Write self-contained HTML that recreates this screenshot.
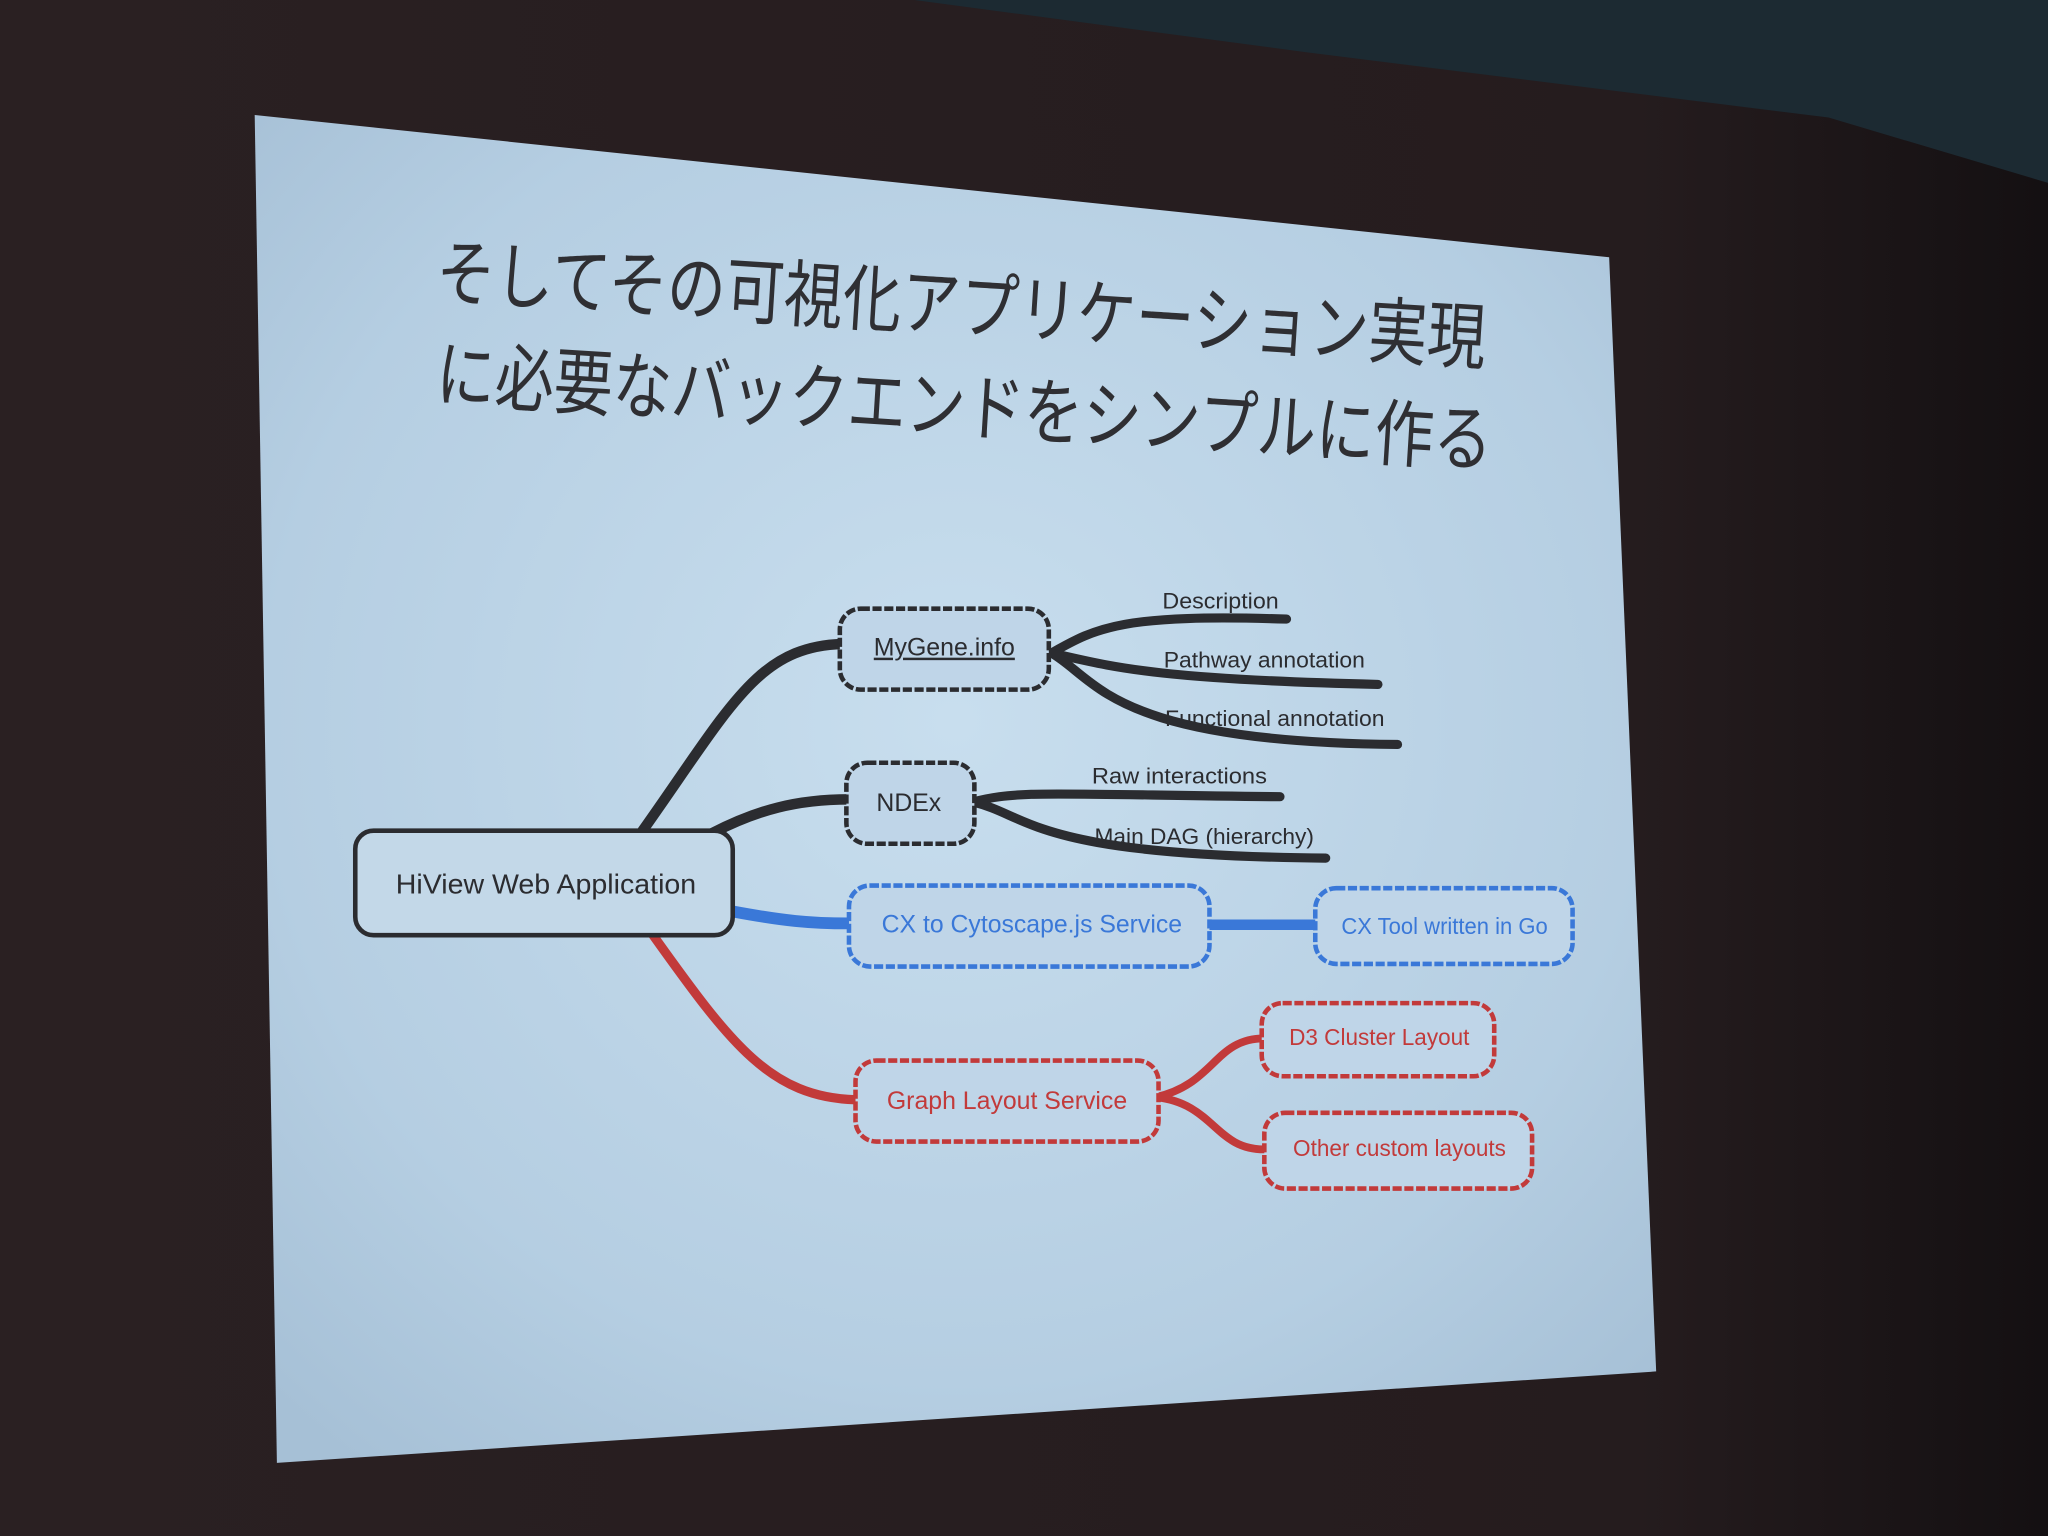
<!DOCTYPE html>
<html><head><meta charset="utf-8"><style>
html,body{margin:0;padding:0;background:#231b1c;}
svg{display:block}
</style></head><body>
<svg width="2048" height="1536" viewBox="0 0 1568 1176" xmlns="http://www.w3.org/2000/svg">
<defs>
<radialGradient id="g" cx="0.5" cy="0.45" r="0.7">
<stop offset="0" stop-color="#c8deee"/><stop offset="0.7" stop-color="#b5cee2"/><stop offset="1" stop-color="#a6c0d6"/>
</radialGradient>
<linearGradient id="bg" x1="0" y1="0" x2="1" y2="0">
<stop offset="0" stop-color="#2a2022"/><stop offset="0.8" stop-color="#251c1e"/><stop offset="1" stop-color="#141012"/>
</linearGradient>
</defs>
<rect width="1568" height="1176" fill="url(#bg)"/>
<polygon points="700,0 1568,0 1568,140 1400,90 1000,40" fill="#1c2a32"/>
<polygon points="195,88 1232,197 1268,1050 212,1120" fill="url(#g)"/>
<g font-family="Liberation Sans, Noto Sans CJK JP, sans-serif" fill="#2f2f33">
<text x="333" y="228" font-size="56" transform="rotate(3.6 333 228)" textLength="805" lengthAdjust="spacingAndGlyphs">そしてその可視化アプリケーション実現</text>
<text x="333" y="306" font-size="56" transform="rotate(3.6 333 306)" textLength="810" lengthAdjust="spacingAndGlyphs">に必要なバックエンドをシンプルに作る</text>
</g>
<g fill="none" stroke-linecap="round">
<path d="M492,636 C560,540 580,495 645,493" stroke="#2b2c30" stroke-width="8"/>
<path d="M545,638 C580,620 610,612 650,612" stroke="#2b2c30" stroke-width="8"/>
<path d="M805,500 C840,480 860,470 985,474" stroke="#2b2c30" stroke-width="7"/>
<path d="M805,500 C850,510 880,520 1055,524" stroke="#2b2c30" stroke-width="7"/>
<path d="M805,500 C840,520 850,568 1070,570" stroke="#2b2c30" stroke-width="7"/>
<path d="M745,614 C780,605 800,608 980,610" stroke="#2b2c30" stroke-width="7"/>
<path d="M745,614 C790,625 790,655 1015,657" stroke="#2b2c30" stroke-width="7"/>
<path d="M562,698 C600,705 620,707 650,707" stroke="#3a78d8" stroke-width="9"/>
<path d="M925,708 L1008,708" stroke="#3a78d8" stroke-width="8"/>
<path d="M500,716 C560,800 590,840 655,842" stroke="#c23a3a" stroke-width="7"/>
<path d="M885,840 C930,830 930,795 968,795" stroke="#c23a3a" stroke-width="6"/>
<path d="M885,840 C930,845 930,880 968,880" stroke="#c23a3a" stroke-width="6"/>
</g>
<rect x="272" y="636" width="289" height="80" rx="14" fill="#c3d8e8" stroke="#2b2c30" stroke-width="3.5"/>
<g fill="#bfd5e8" stroke-width="3.5" stroke-dasharray="7 2">
<rect x="643" y="466" width="160" height="62" rx="16" stroke="#2b2c30"/>
<rect x="648" y="584" width="98" height="62" rx="16" stroke="#2b2c30"/>
<rect x="650" y="678" width="276" height="62" rx="16" stroke="#3a78d8"/>
<rect x="1007" y="680" width="197" height="58" rx="16" stroke="#3a78d8"/>
<rect x="655" y="812" width="232" height="62" rx="16" stroke="#c23a3a"/>
<rect x="966" y="768" width="178" height="56" rx="16" stroke="#c23a3a"/>
<rect x="968" y="852" width="205" height="58" rx="16" stroke="#c23a3a"/>
</g>
<g font-family="Liberation Sans, sans-serif" font-size="19">
<text x="303" y="684" fill="#2b2c30" font-size="21" textLength="230" lengthAdjust="spacingAndGlyphs">HiView Web Application</text>
<text x="669" y="502" fill="#2b2c30" text-decoration="underline" textLength="108" lengthAdjust="spacingAndGlyphs">MyGene.info</text>
<text x="671" y="621" fill="#2b2c30">NDEx</text>
<text x="890" y="466" fill="#2b2c30" font-size="17" textLength="89" lengthAdjust="spacingAndGlyphs">Description</text>
<text x="891" y="511" fill="#2b2c30" font-size="17" textLength="154" lengthAdjust="spacingAndGlyphs">Pathway annotation</text>
<text x="892" y="556" fill="#2b2c30" font-size="17" textLength="168" lengthAdjust="spacingAndGlyphs">Functional annotation</text>
<text x="836" y="600" fill="#2b2c30" font-size="17" textLength="134" lengthAdjust="spacingAndGlyphs">Raw interactions</text>
<text x="838" y="646" fill="#2b2c30" font-size="17" textLength="168" lengthAdjust="spacingAndGlyphs">Main DAG (hierarchy)</text>
<text x="675" y="714" fill="#3a78d8" textLength="230" lengthAdjust="spacingAndGlyphs">CX to Cytoscape.js Service</text>
<text x="1027" y="715" fill="#3a78d8" font-size="18" textLength="158" lengthAdjust="spacingAndGlyphs">CX Tool written in Go</text>
<text x="679" y="849" fill="#c23a3a" textLength="184" lengthAdjust="spacingAndGlyphs">Graph Layout Service</text>
<text x="987" y="800" fill="#c23a3a" font-size="18" textLength="138" lengthAdjust="spacingAndGlyphs">D3 Cluster Layout</text>
<text x="990" y="885" fill="#c23a3a" font-size="18" textLength="163" lengthAdjust="spacingAndGlyphs">Other custom layouts</text>
</g>
</svg>
</body></html>
